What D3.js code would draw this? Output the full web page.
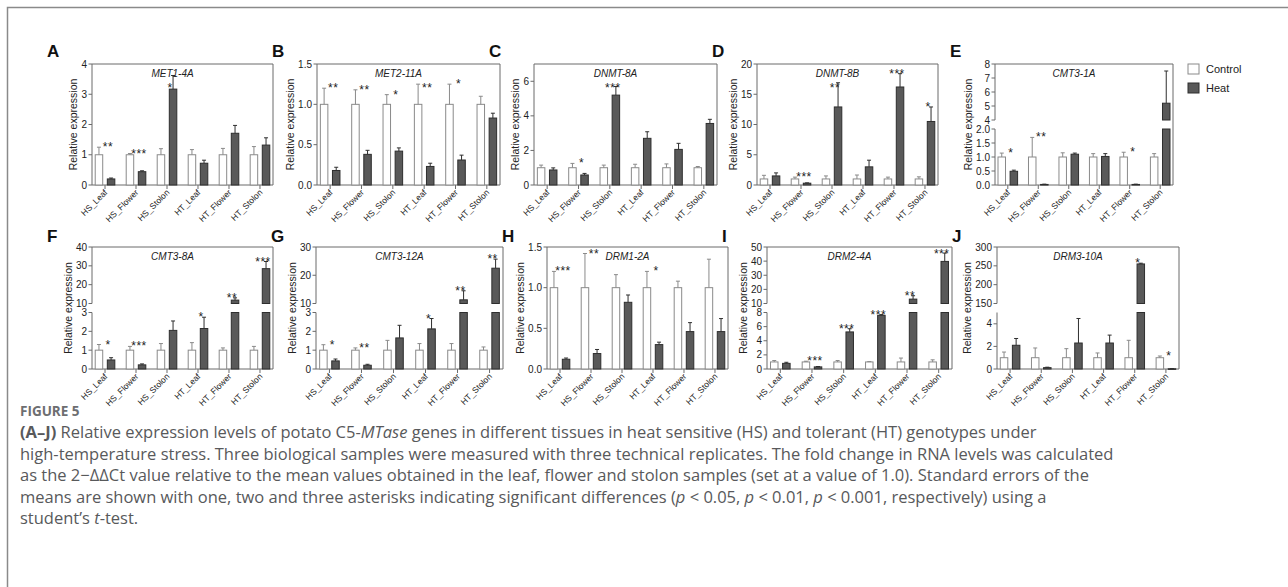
<!DOCTYPE html>
<html>
<head>
<meta charset="utf-8">
<script src="https://cdn.jsdelivr.net/npm/d3@7"></script>
<style>
  html, body { margin: 0; padding: 0; background: #fff; }
  svg { display: block; }
  .tick-label { font-family: "Liberation Sans", Arial, sans-serif; font-size: 10px; fill: #222; }
  .x-label { font-family: "Liberation Sans", Arial, sans-serif; font-size: 8.5px; fill: #222; }
  .y-title { font-family: "Liberation Sans", Arial, sans-serif; font-size: 10.5px; fill: #222; }
  .gene { font-family: "Liberation Sans", Arial, sans-serif; font-size: 10px; font-style: italic; fill: #222; }
  .letter { font-family: "Liberation Sans", Arial, sans-serif; font-size: 17px; font-weight: bold; fill: #111; }
  .star { font-family: "Liberation Sans", Arial, sans-serif; font-size: 12px; fill: #222; letter-spacing: 0.5px; }
  .legend-text { font-family: "Liberation Sans", Arial, sans-serif; font-size: 11px; fill: #222; }
  .fig-num { font-family: "Open Sans", sans-serif; font-size: 13.5px; font-weight: bold; fill: #6d6e71; }
  .caption { font-family: "Open Sans", sans-serif; font-size: 16.5px; fill: #58595b; }
</style>
</head>
<body>
<svg id="chart" width="1288" height="587"></svg>
<script>
// sample groups on the x axis
const groups = ['HS_Leaf', 'HS_Flower', 'HS_Stolon', 'HT_Leaf', 'HT_Flower', 'HT_Stolon'];
const genes = ['MET1-4A', 'MET2-11A', 'DNMT-8A', 'DNMT-8B', 'CMT3-1A',
  'CMT3-8A', 'CMT3-12A', 'DRM1-2A', 'DRM2-4A', 'DRM3-10A'];
const letters = ['A', 'B', 'C', 'D', 'E', 'F', 'G', 'H', 'I', 'J'];

// control is the reference (1.0) in every tissue
const controlMean = genes.map(() => [1, 1, 1, 1, 1, 1]);
const controlSE = [
  [0.25, 0.04, 0.2, 0.17, 0.21, 0.27],
  [0.2, 0.18, 0.12, 0.25, 0.25, 0.1],
  [0.15, 0.25, 0.15, 0.2, 0.22, 0.07],
  [0.6, 0.3, 0.5, 0.65, 0.3, 0.35],
  [0.14, 0.7, 0.15, 0.12, 0.17, 0.12],
  [0.3, 0.2, 0.35, 0.4, 0.12, 0.2],
  [0.29, 0.12, 0.52, 0.35, 0.35, 0.17],
  [0.2, 0.42, 0.16, 0.2, 0.08, 0.35],
  [0.2, 0.1, 0.2, 0.05, 0.55, 0.3],
  [0.5, 0.86, 0.8, 0.42, 1.54, 0.15],
];
const heatMean = [
  [0.2, 0.44, 3.17, 0.72, 1.71, 1.32],
  [0.18, 0.38, 0.42, 0.23, 0.31, 0.83],
  [0.87, 0.58, 5.2, 2.7, 2.06, 3.56],
  [1.5, 0.3, 12.9, 3.0, 16.2, 10.5],
  [0.49, 0.02, 1.1, 1.02, 0.02, 5.2],
  [0.48, 0.22, 2.05, 2.15, 11.8, 28.5],
  [0.43, 0.2, 1.65, 2.13, 11.3, 22.5],
  [0.12, 0.19, 0.82, 0.3, 0.46, 0.46],
  [0.8, 0.3, 5.25, 7.6, 13.1, 39.8],
  [2.1, 0.12, 2.3, 2.3, 255, 0.02],
];
const heatSE = [
  [0.03, 0.03, 0.45, 0.1, 0.26, 0.24],
  [0.04, 0.05, 0.04, 0.04, 0.06, 0.06],
  [0.12, 0.09, 0.5, 0.38, 0.35, 0.24],
  [0.5, 0.05, 4.0, 1.1, 2.2, 2.4],
  [0.04, 0.01, 0.04, 0.1, 0.01, 2.3],
  [0.12, 0.05, 0.5, 0.6, 1.2, 3.8],
  [0.1, 0.05, 0.67, 0.55, 3.2, 3.2],
  [0.015, 0.05, 0.09, 0.03, 0.11, 0.16],
  [0.15, 0.05, 0.45, 0.1, 2.4, 5.9],
  [0.6, 0.04, 2.17, 0.7, 2, 0.01],
];
const stars = [
  ['**', '***', '*', '', '', ''],
  ['**', '**', '*', '**', '*', ''],
  ['', '*', '***', '', '', ''],
  ['', '***', '**', '', '***', '*'],
  ['*', '**', '', '', '*', ''],
  ['*', '***', '', '*', '**', '***'],
  ['*', '**', '', '*', '**', '**'],
  ['***', '**', '', '*', '', ''],
  ['', '***', '***', '***', '**', '***'],
  ['', '', '', '', '*', '*'],
];
// y axis segments (two segments = broken axis)
const yDomains = [
  [[0, 4]], [[0, 1.5]], [[0, 7]], [[0, 20]], [[0, 2], [4, 8]],
  [[0, 3], [10, 40]], [[0, 3], [10, 30]], [[0, 1.5]], [[0, 8], [10, 50]], [[0, 5], [150, 300]],
];
const yTicks = [
  [[0, 1, 2, 3, 4]],
  [[0, 0.5, 1, 1.5]],
  [[0, 2, 4, 6]],
  [[0, 5, 10, 15, 20]],
  [[0, 0.5, 1, 1.5, 2], [4, 5, 6, 7, 8]],
  [[0, 1, 2, 3], [10, 20, 30, 40]],
  [[0, 1, 2, 3], [10, 20, 30]],
  [[0, 0.5, 1, 1.5]],
  [[0, 2, 4, 6, 8], [10, 20, 30, 40, 50]],
  [[0, 2, 4], [150, 200, 250, 300]],
];

// layout
const rows = [{ top: 64, bottom: 185, letterY: 57 }, { top: 247, bottom: 369, letterY: 242 }];
const panelX = [
  [92, 273], [317, 500], [534, 717], [757, 938], [995, 1173],
  [92, 273], [316, 503], [547, 728], [767, 952], [997, 1179],
];
const axisColor = '#6b6b6b';

const svg = d3.select('#chart');

svg.append('rect')
  .attr('x', 7.5).attr('y', 7.5)
  .attr('width', 1300).attr('height', 600)
  .attr('fill', 'none')
  .attr('stroke', '#8a8a8a')
  .attr('stroke-width', 1.5);

function drawPanel(i) {
  const row = rows[i < 5 ? 0 : 1];
  const [x0, x1] = panelX[i];
  const { top, bottom } = row;
  const g = svg.append('g').attr('class', `panel panel--${letters[i]}`);

  const gap = 9;
  const broken = yDomains[i].length === 2;
  const segH = broken ? (bottom - top - gap) / 2 : bottom - top;
  const segs = yDomains[i].map((dom, k) => {
    const base = bottom - k * (segH + gap);
    return {
      dom,
      ticks: yTicks[i][k],
      scale: d3.scaleLinear().domain(dom).range([base, base - segH]),
    };
  });
  const segOf = (v) => segs.find((s) => v <= s.dom[1]) || segs[segs.length - 1];
  const yPos = (v) => {
    const s = segOf(v);
    return s.scale(Math.max(v, s.dom[0]));
  };

  const x = d3.scalePoint().domain(groups).range([x0, x1]).padding(0.42);

  // y axis, one piece per segment
  const yAxisG = g.append('g').attr('class', 'y-axis');
  segs.forEach((s) => {
    const fmt = s.ticks.some((t) => t % 1 !== 0) ? d3.format('.1f') : d3.format('d');
    yAxisG.append('line')
      .attr('x1', x0).attr('x2', x0)
      .attr('y1', s.scale.range()[0]).attr('y2', s.scale.range()[1])
      .attr('stroke', axisColor);
    s.ticks.forEach((t) => {
      yAxisG.append('line')
        .attr('x1', x0 - 3.5).attr('x2', x0)
        .attr('y1', s.scale(t)).attr('y2', s.scale(t))
        .attr('stroke', axisColor);
      yAxisG.append('text')
        .attr('class', 'tick-label')
        .attr('x', x0 - 5)
        .attr('y', s.scale(t))
        .attr('dy', '0.35em')
        .attr('text-anchor', 'end')
        .text(fmt(t));
    });
  });

  // frame: top, right, bottom
  g.append('path')
    .attr('d', `M${x0},${top}H${x1}V${bottom}H${x0}`)
    .attr('fill', 'none')
    .attr('stroke', axisColor);

  // x ticks and rotated labels
  groups.forEach((name) => {
    const cx = x(name);
    g.append('line')
      .attr('x1', cx).attr('x2', cx)
      .attr('y1', bottom).attr('y2', bottom + 4)
      .attr('stroke', axisColor);
    g.append('text')
      .attr('class', 'x-label')
      .attr('text-anchor', 'end')
      .attr('transform', `translate(${cx + 3},${bottom + 8}) rotate(-45)`)
      .text(name);
  });

  const bw = 7.5;
  const half = 2.3;
  const series = [
    { mean: controlMean[i], se: controlSE[i], dx: -half - bw, fill: '#fff', stroke: '#8a8a8a' },
    { mean: heatMean[i], se: heatSE[i], dx: half, fill: '#595959', stroke: '#2e2e2e' },
  ];

  series.forEach((sr) => {
    groups.forEach((name, j) => {
      const v = sr.mean[j];
      const bx = x(name) + sr.dx;
      segs.forEach((s) => {
        if (v <= s.dom[0]) return;
        const yt = s.scale(Math.min(v, s.dom[1]));
        const yb = s.scale(s.dom[0]);
        g.append('rect')
          .attr('x', bx).attr('y', yt)
          .attr('width', bw).attr('height', Math.max(yb - yt, 0.6))
          .attr('fill', sr.fill)
          .attr('stroke', sr.stroke)
          .attr('stroke-width', 1);
      });
      // error bar (upper half only)
      const s = segOf(v);
      const ey0 = s.scale(v);
      const ey1 = s.scale(Math.min(v + sr.se[j], s.dom[1]));
      const ex = bx + bw / 2;
      g.append('line')
        .attr('x1', ex).attr('x2', ex)
        .attr('y1', ey0).attr('y2', ey1)
        .attr('stroke', sr.stroke);
      g.append('line')
        .attr('x1', ex - 2).attr('x2', ex + 2)
        .attr('y1', ey1).attr('y2', ey1)
        .attr('stroke', sr.stroke);
    });
  });

  // gene name
  const titleX = (x0 + x1) / 2 - 10;
  const title = g.append('text')
    .attr('class', 'gene')
    .attr('x', titleX)
    .attr('y', top + 13)
    .attr('text-anchor', 'middle')
    .text(genes[i]);
  const tb = title.node().getBBox();

  // significance marks, kept below the gene name when they sit under it
  groups.forEach((name, j) => {
    if (!stars[i][j]) return;
    const topVal = Math.max(controlMean[i][j] + controlSE[i][j], heatMean[i][j] + heatSE[i][j]);
    const sx = x(name) + 3;
    const underTitle = sx > tb.x - 8 && sx < tb.x + tb.width + 8;
    const minY = underTitle ? top + 28 : top + 11;
    g.append('text')
      .attr('class', 'star')
      .attr('x', sx)
      .attr('y', Math.max(yPos(topVal) + 4, minY))
      .attr('text-anchor', 'middle')
      .text(stars[i][j]);
  });

  // y title next to tick labels
  const bb = yAxisG.node().getBBox();
  const ym = (top + bottom) / 2;
  g.append('text')
    .attr('class', 'y-title')
    .attr('text-anchor', 'middle')
    .attr('transform', `translate(${bb.x - 4},${ym}) rotate(-90)`)
    .text('Relative expression');

  // panel letter
  g.append('text')
    .attr('class', 'letter')
    .attr('x', x0 - 45)
    .attr('y', row.letterY)
    .text(letters[i]);
}

genes.forEach((gene, i) => drawPanel(i));

// legend
const legend = svg.append('g').attr('class', 'legend');
[{ name: 'Control', fill: '#fff', stroke: '#8a8a8a' }, { name: 'Heat', fill: '#595959', stroke: '#2e2e2e' }]
  .forEach((d, k) => {
    legend.append('rect')
      .attr('x', 1188).attr('y', 64 + k * 19)
      .attr('width', 11).attr('height', 10)
      .attr('fill', d.fill)
      .attr('stroke', d.stroke);
    legend.append('text')
      .attr('class', 'legend-text')
      .attr('x', 1206).attr('y', 73 + k * 19)
      .text(d.name);
  });

// caption
svg.append('text')
  .attr('class', 'fig-num')
  .attr('x', 20).attr('y', 416)
  .text('FIGURE 5');

const captionLines = [
  [['(A–J)', 'b'], [' Relative expression levels of potato C5-'], ['MTase', 'i'],
    [' genes in different tissues in heat sensitive (HS) and tolerant (HT) genotypes under']],
  [['high-temperature stress. Three biological samples were measured with three technical replicates. The fold change in RNA levels was calculated']],
  [['as the 2−ΔΔCt value relative to the mean values obtained in the leaf, flower and stolon samples (set at a value of 1.0). Standard errors of the']],
  [['means are shown with one, two and three asterisks indicating significant differences ('], ['p', 'i'], [' < 0.05, '],
    ['p', 'i'], [' < 0.01, '], ['p', 'i'], [' < 0.001, respectively) using a']],
  [['student’s '], ['t', 'i'], ['-test.']],
];
captionLines.forEach((parts, k) => {
  const t = svg.append('text')
    .attr('class', 'caption')
    .attr('x', 20)
    .attr('y', 438 + k * 21.5);
  parts.forEach(([str, style]) => {
    const sp = t.append('tspan').text(str);
    if (style === 'b') sp.attr('font-weight', 'bold');
    if (style === 'i') sp.attr('font-style', 'italic');
  });
});
</script>
</body>
</html>
